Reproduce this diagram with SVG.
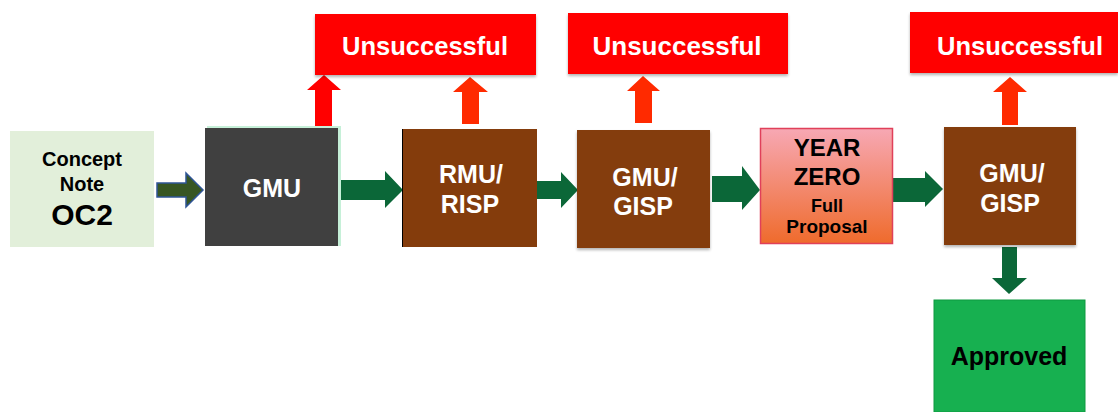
<svg xmlns="http://www.w3.org/2000/svg" width="1118" height="412" viewBox="0 0 1118 412">
<style>
text{font-family:"Liberation Sans",Arial,sans-serif;font-weight:bold;text-anchor:middle}
.w{fill:#ffffff}
.k{fill:#000000}
.brown{fill:#843c0c}
.uns{fill:#ff0000}
.ut{fill:#ffffff;font-size:26px}
.g{fill:#0b6738}
.r{fill:#ff2a00}
</style>
<defs>
<linearGradient id="yz" x1="0" y1="0" x2="0" y2="1">
<stop offset="0" stop-color="#f7a8b4"/>
<stop offset="1" stop-color="#ef6b2c"/>
</linearGradient>
<filter id="sh" x="-5%" y="-10%" width="110%" height="130%">
<feGaussianBlur in="SourceAlpha" stdDeviation="1.5"/>
<feOffset dy="2"/>
<feComponentTransfer><feFuncA type="linear" slope="0.3"/></feComponentTransfer>
<feMerge><feMergeNode/><feMergeNode in="SourceGraphic"/></feMerge>
</filter>
</defs>
<rect width="1118" height="412" fill="#ffffff"/>

<g id="connectors">
<polygon points="157,183 186,183 186,173 203,190 186,207 186,197 157,197" fill="#375623" stroke="#2f5597" stroke-width="1.5"/>
<polygon class="g" points="338,180 385,180 385,171 403,190 385,208 385,200 338,200"/>
<polygon class="g" points="537,181 561,181 561,172 578,190 561,208 561,199 537,199"/>
<polygon class="g" points="712,176 742,176 742,166 760,190 742,210 742,202 712,202"/>
<polygon class="g" points="893,178 925,178 925,171 943,189 925,207 925,202 893,202"/>
<polygon class="g" points="1002,247 1017,247 1017,278 1027,278 1009,294 992,278 1002,278"/>
<polygon fill="#ff0000" points="315,126 332,126 332,90 341,90 324,75 307,90 315,90"/>
<polygon class="r" points="462,124 479,124 479,92 488,92 470,77 453,92 462,92"/>
<polygon class="r" points="635,123 652,123 652,91 660,91 643,76 627,91 635,91"/>
<polygon class="r" points="1002,125 1018,125 1018,92 1027,92 1010,77 993,92 1002,92"/>
</g>

<g id="concept-note">
<rect x="10" y="131" width="144" height="116" fill="#e2efda"/>
<text class="k" x="82" y="166" font-size="20">Concept</text>
<text class="k" x="82" y="191" font-size="20">Note</text>
<text class="k" x="82" y="225" font-size="30">OC2</text>
</g>

<g id="gmu">
<rect x="207" y="126" width="134" height="120" fill="#c6f0d8"/>
<rect x="205" y="128" width="133" height="118" fill="#404040"/>
<text class="w" x="272" y="197" font-size="25">GMU</text>
</g>

<g id="rmu-risp">
<rect class="brown" x="402" y="129" width="135" height="118"/>
<line x1="402.5" y1="129" x2="402.5" y2="247" stroke="#000" stroke-width="1"/>
<text class="w" x="471" y="183" font-size="25">RMU/</text>
<text class="w" x="470" y="213" font-size="25">RISP</text>
</g>

<g id="gmu-gisp-1">
<rect class="brown" x="577" y="130" width="133" height="118" filter="url(#sh)"/>
<text class="w" x="645" y="186" font-size="25">GMU/</text>
<text class="w" x="643" y="215" font-size="25">GISP</text>
</g>

<g id="year-zero">
<rect x="760.5" y="128.5" width="132" height="115" fill="url(#yz)" stroke="#e0405a" stroke-width="1.5"/>
<text class="k" x="827" y="156" font-size="24">YEAR</text>
<text class="k" x="827" y="185" font-size="24">ZERO</text>
<text class="k" x="827" y="212" font-size="18">Full</text>
<text class="k" x="827" y="233" font-size="19">Proposal</text>
</g>

<g id="gmu-gisp-2">
<rect class="brown" x="944" y="127" width="132" height="118" filter="url(#sh)"/>
<text class="w" x="1012" y="182" font-size="25">GMU/</text>
<text class="w" x="1010" y="212" font-size="25">GISP</text>
</g>

<g id="approved">
<rect x="934" y="300" width="151" height="112" fill="#17b050" stroke="#0e9a40" stroke-width="1"/>
<text class="k" x="1009" y="365" font-size="25">Approved</text>
</g>

<g id="unsuccessful-1">
<rect class="uns" x="315" y="14" width="221" height="61" filter="url(#sh)"/>
<text class="ut" x="425" y="55" textLength="166" lengthAdjust="spacingAndGlyphs">Unsuccessful</text>
</g>

<g id="unsuccessful-2">
<rect class="uns" x="568" y="13" width="220" height="61" filter="url(#sh)"/>
<text class="ut" x="677" y="55" textLength="169" lengthAdjust="spacingAndGlyphs">Unsuccessful</text>
</g>

<g id="unsuccessful-3">
<rect class="uns" x="910" y="12" width="208" height="61" filter="url(#sh)"/>
<text class="ut" x="1020" y="55" textLength="166" lengthAdjust="spacingAndGlyphs">Unsuccessful</text>
</g>
</svg>
